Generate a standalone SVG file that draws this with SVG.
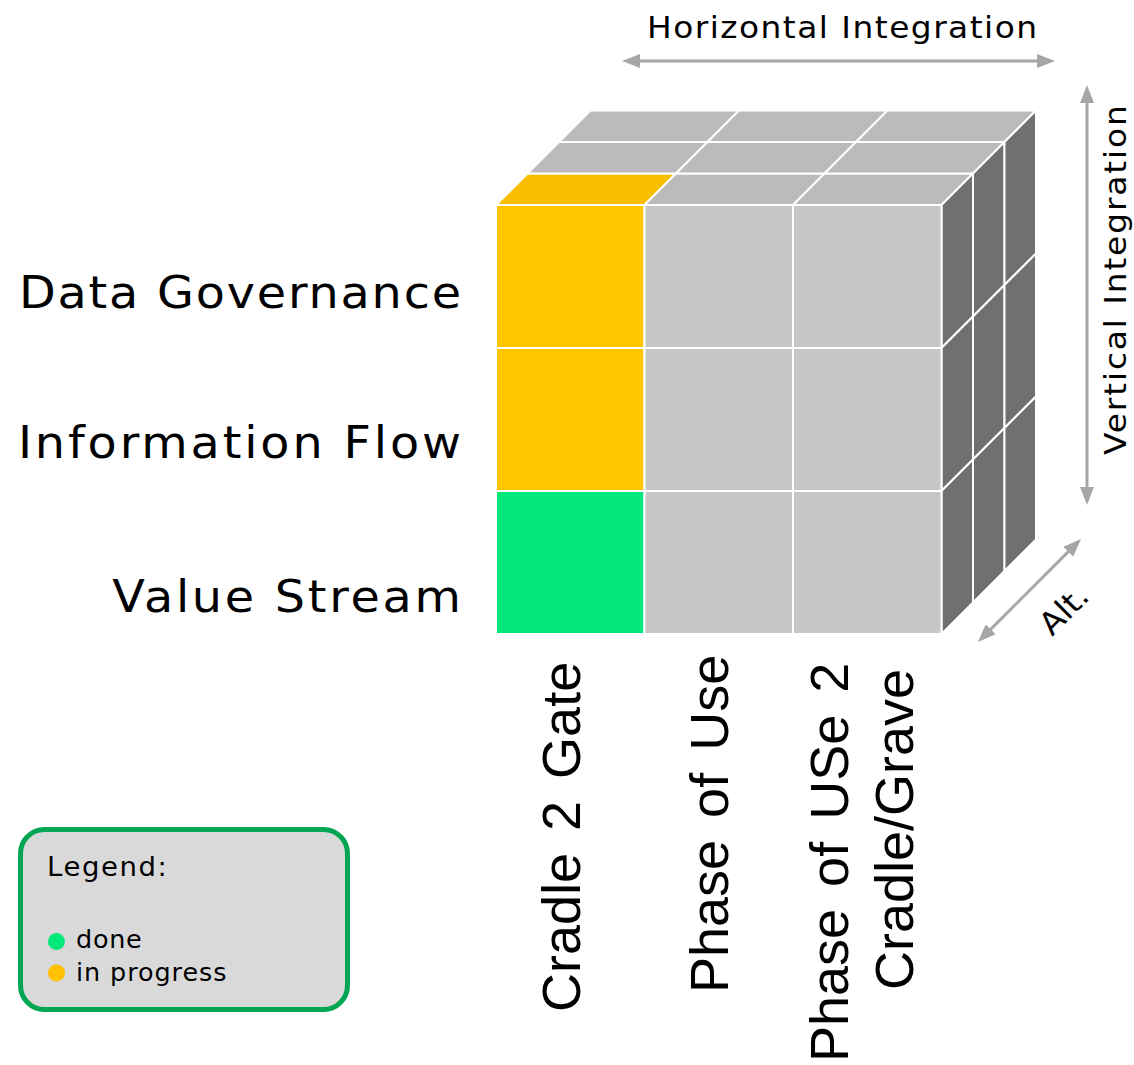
<svg xmlns="http://www.w3.org/2000/svg" width="1134" height="1065" viewBox="0 0 1134 1065">
  <defs>
    <style>
      .lbl { font-family: "DejaVu Sans", "Noto Sans", sans-serif; fill: #000; }
      .col { font-family: "Liberation Sans", Arial, sans-serif; font-size: 54px; fill: #000; word-spacing: 7px; }
      .cell { stroke: #fff; stroke-width: 2; stroke-linejoin: round; }
      .front { fill: #c6c6c6; }
      .top { fill: #bbbbbb; }
      .side { fill: #707070; }
      .prog { fill: #ffc600; }
      .progtop { fill: #f9be00; }
      .done { fill: #02e87a; }
      .axis { stroke: #a6a6a6; stroke-width: 3; fill: none; }
    </style>
    <marker id="head" markerUnits="userSpaceOnUse" viewBox="0 0 18 14" markerWidth="18" markerHeight="14" refX="4" refY="7" orient="auto-start-reverse">
      <path d="M0,0 L18,7 L0,14 z" fill="#a6a6a6"/>
    </marker>
  </defs>

  <rect width="1134" height="1065" fill="#fff"/>

  <!-- cube: top face (3 columns x 3 layers deep) -->
  <g id="cube-top">
    <polygon class="cell progtop" points="496,205 644.5,205 676,173.5 527.5,173.5"/>
    <polygon class="cell top" points="644.5,205 793,205 824.5,173.5 676,173.5"/>
    <polygon class="cell top" points="793,205 941.5,205 973,173.5 824.5,173.5"/>
    <polygon class="cell top" points="527.5,173.5 676,173.5 707.5,142 559,142"/>
    <polygon class="cell top" points="676,173.5 824.5,173.5 856,142 707.5,142"/>
    <polygon class="cell top" points="824.5,173.5 973,173.5 1004.5,142 856,142"/>
    <polygon class="cell top" points="559,142 707.5,142 739,110.5 590.5,110.5"/>
    <polygon class="cell top" points="707.5,142 856,142 887.5,110.5 739,110.5"/>
    <polygon class="cell top" points="856,142 1004.5,142 1036,110.5 887.5,110.5"/>
  </g>

  <!-- cube: right side face (3 rows x 3 layers deep) -->
  <g id="cube-side">
    <polygon class="cell side" points="941.5,205 973,173.5 973,316.5 941.5,348"/>
    <polygon class="cell side" points="973,173.5 1004.5,142 1004.5,285 973,316.5"/>
    <polygon class="cell side" points="1004.5,142 1036,110.5 1036,253.5 1004.5,285"/>
    <polygon class="cell side" points="941.5,348 973,316.5 973,459.5 941.5,491"/>
    <polygon class="cell side" points="973,316.5 1004.5,285 1004.5,428 973,459.5"/>
    <polygon class="cell side" points="1004.5,285 1036,253.5 1036,396.5 1004.5,428"/>
    <polygon class="cell side" points="941.5,491 973,459.5 973,602.5 941.5,634"/>
    <polygon class="cell side" points="973,459.5 1004.5,428 1004.5,571 973,602.5"/>
    <polygon class="cell side" points="1004.5,428 1036,396.5 1036,539.5 1004.5,571"/>
  </g>

  <!-- cube: front face (rows = layers, columns = lifecycle phases) -->
  <g id="cube-front">
    <rect class="cell prog" x="496" y="205" width="148.5" height="143"/>
    <rect class="cell front" x="644.5" y="205" width="148.5" height="143"/>
    <rect class="cell front" x="793" y="205" width="148.5" height="143"/>
    <rect class="cell prog" x="496" y="348" width="148.5" height="143"/>
    <rect class="cell front" x="644.5" y="348" width="148.5" height="143"/>
    <rect class="cell front" x="793" y="348" width="148.5" height="143"/>
    <rect class="cell done" x="496" y="491" width="148.5" height="143"/>
    <rect class="cell front" x="644.5" y="491" width="148.5" height="143"/>
    <rect class="cell front" x="793" y="491" width="148.5" height="143"/>
  </g>

  <!-- axis arrows -->
  <g id="connectors">
    <line class="axis" x1="636" y1="61" x2="1041" y2="61" marker-start="url(#head)" marker-end="url(#head)"/>
    <line class="axis" x1="1087" y1="99" x2="1087" y2="491" marker-start="url(#head)" marker-end="url(#head)"/>
    <line class="axis" x1="987.9" y1="632.1" x2="1071.1" y2="548.9" marker-start="url(#head)" marker-end="url(#head)"/>
  </g>

  <!-- axis titles -->
  <g id="axis-horizontal">
    <text class="lbl" transform="translate(647,38) scale(1.06,1)" font-size="31" textLength="368" lengthAdjust="spacing">Horizontal Integration</text>
  </g>
  <g id="axis-vertical">
    <text class="lbl" transform="translate(1126,455) rotate(-90) scale(1.06,1)" font-size="31" textLength="330" lengthAdjust="spacing">Vertical Integration</text>
  </g>
  <g id="axis-alt">
    <text class="lbl" transform="translate(1064,610) rotate(-45) scale(1.06,1)" font-size="31" text-anchor="middle" dominant-baseline="central">Alt.</text>
  </g>

  <!-- row labels -->
  <g id="row-data-governance">
    <text class="lbl" transform="translate(461,308) scale(1.06,1)" font-size="45" text-anchor="end" textLength="417" lengthAdjust="spacing">Data Governance</text>
  </g>
  <g id="row-information-flow">
    <text class="lbl" transform="translate(461,458) scale(1.06,1)" font-size="45" text-anchor="end" textLength="418" lengthAdjust="spacing">Information Flow</text>
  </g>
  <g id="row-value-stream">
    <text class="lbl" transform="translate(461,612) scale(1.06,1)" font-size="45" text-anchor="end" textLength="329" lengthAdjust="spacing">Value Stream</text>
  </g>

  <!-- column labels -->
  <g id="col-cradle-gate">
    <text class="col" transform="translate(580,1012) rotate(-90)">Cradle 2 Gate</text>
  </g>
  <g id="col-phase-of-use">
    <text class="col" transform="translate(728,993) rotate(-90)">Phase of Use</text>
  </g>
  <g id="col-cradle-grave">
    <text class="col" transform="translate(848,1062) rotate(-90)">Phase of USe 2</text>
    <text class="col" transform="translate(913,990) rotate(-90)">Cradle/Grave</text>
  </g>

  <!-- legend -->
  <g id="legend">
    <rect x="20.5" y="829.5" width="327" height="180" rx="24" fill="#d9d9d9" stroke="#00a651" stroke-width="5"/>
    <text class="lbl" transform="translate(47,876) scale(1.06,1)" font-size="26" textLength="113" lengthAdjust="spacing">Legend:</text>
    <circle cx="56.5" cy="941.5" r="8.5" fill="#02e87a"/>
    <text class="lbl" transform="translate(76,948) scale(1.06,1)" font-size="24" textLength="62" lengthAdjust="spacing">done</text>
    <circle cx="56.5" cy="973" r="8.5" fill="#ffc000"/>
    <text class="lbl" transform="translate(76,981) scale(1.06,1)" font-size="24" textLength="142" lengthAdjust="spacing">in progress</text>
  </g>
</svg>
